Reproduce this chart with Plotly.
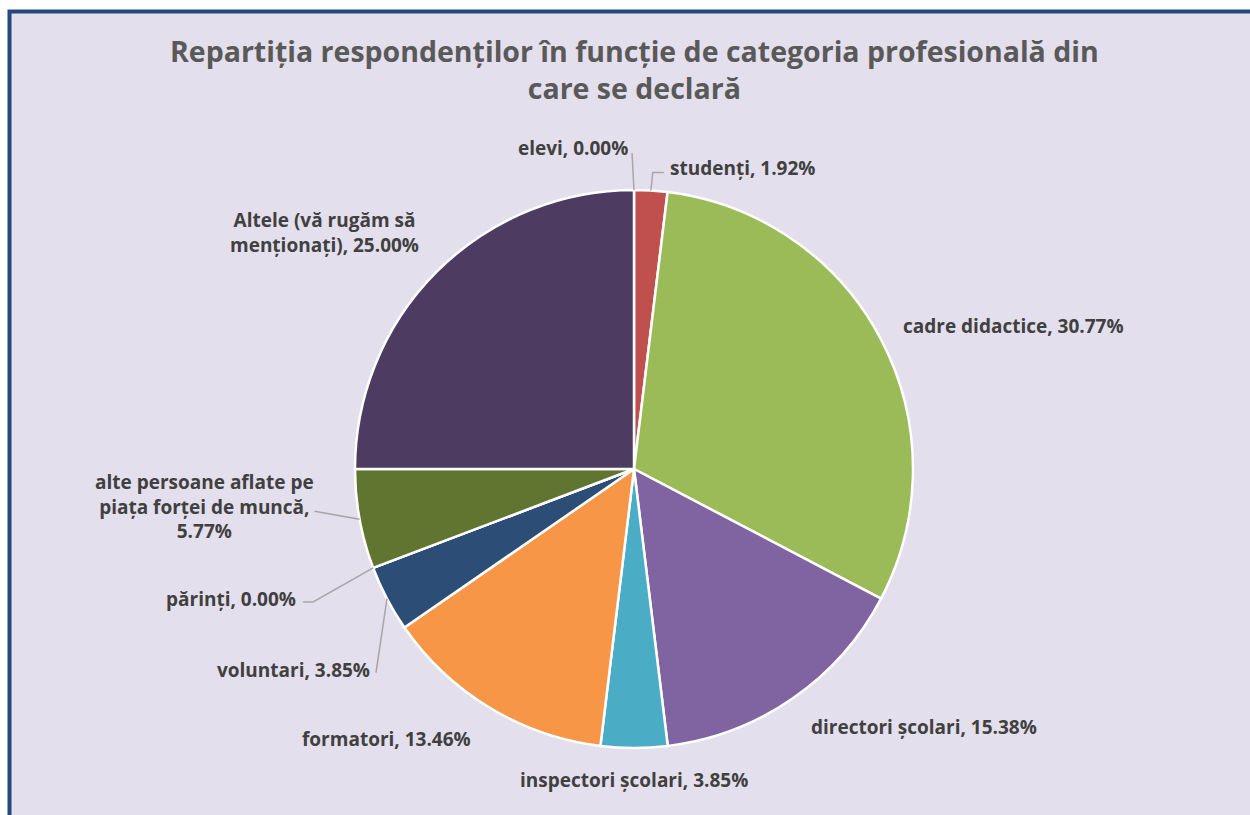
import numpy as np
import plotly.graph_objects as go

W, H = 1250, 815

categories = ["elevi", "studenți", "cadre didactice", "directori școlari",
              "inspectori școlari", "formatori", "voluntari", "părinți",
              "alte persoane aflate pe<br>piața forței de muncă,<br>",
              "Altele (vă rugăm să<br>menționați), "]
values = [0.00, 1.92, 30.77, 15.38, 3.85, 13.46, 3.85, 0.00, 5.77, 25.00]
colors = ["#4F81BD", "#C0504D", "#9BBB59", "#8064A2", "#4BACC6",
          "#F79646", "#2C4D75", "#772C2A", "#5F7530", "#4D3B62"]
title_text = "Repartiția respondenților în funcție de categoria profesională din<br>care se declară"

# pie geometry (pixels)
CX, CY, R = 634, 469, 279

# label layout: (dx, dy, xanchor, leader points relative to anchor)
label_layout = [
    (-4, -42, "right", [(0, 0), (-2, -37)]),
    (17, -23, "left", [(0, 0), (2, -18), (13, -18)]),
    (20, -13, "left", None),
    (16, 28, "left", None),
    (0, 32, "center", None),
    (-17, 31, "right", None),
    (-15, 71, "right", [(0, 0), (-11, 74)]),
    (-75, 31, "right", [(0, 0), (-60, 34), (-70, 34)]),
    (-155, -13, "center", [(0, 0), (-45, -8)]),
    (-112, -39, "center", None),
]


def px(x):
    return x / W


def py(y):
    return 1 - y / H


fig = go.Figure(go.Pie(
    labels=[c.replace("<br>", " ") for c in categories],
    values=values,
    sort=False,
    direction="clockwise",
    rotation=0,
    textinfo="none",
    hoverinfo="label+percent",
    marker=dict(colors=colors, line=dict(color="white", width=2.5)),
    domain=dict(x=[px(CX - R), px(CX + R)], y=[py(CY + R), py(CY - R)]),
    showlegend=False,
))

total = sum(values)
cum = np.cumsum([0] + values[:-1])
shapes = [dict(type="rect", xref="paper", yref="paper",
               x0=px(9.5), x1=px(1270), y0=py(840), y1=py(11.5),
               line=dict(color="#244A7D", width=4), fillcolor="#E4DFEC",
               layer="below")]
annotations = []
for i, (cat, v) in enumerate(zip(categories, values)):
    frac = (cum[i] + v / 2) / total
    ang = 2 * np.pi * frac
    ax_ = CX + R * np.sin(ang)
    ay_ = CY - R * np.cos(ang)
    dx, dy, xa, leader = label_layout[i]
    sep = "" if cat.endswith("<br>") or cat.endswith(", ") else ", "
    txt = f"{cat}{sep}{v:.2f}%"
    annotations.append(dict(
        x=px(ax_ + dx), y=py(ay_ + dy), xref="paper", yref="paper",
        text=txt, showarrow=False, xanchor=xa, yanchor="middle",
        align="center",
        font=dict(family="Open Sans", size=19, color="#404040", weight="bold"),
    ))
    if leader:
        path = "M " + " L ".join(f"{px(ax_ + p[0])},{py(ay_ + p[1])}" for p in leader)
        shapes.append(dict(type="path", xref="paper", yref="paper", path=path,
                           line=dict(color="#A6A6A6", width=1.5)))

annotations.append(dict(
    x=px(634), y=py(70), xref="paper", yref="paper", text=title_text,
    showarrow=False, xanchor="center", yanchor="middle", align="center",
    font=dict(family="Open Sans", size=28.5, color="#595959", weight="bold"),
))

fig.update_layout(
    width=W, height=H,
    margin=dict(l=0, r=0, t=0, b=0),
    paper_bgcolor="white",
    plot_bgcolor="rgba(0,0,0,0)",
    shapes=shapes,
    annotations=annotations,
)

fig.write_html("out.html", config={"displayModeBar": False},
               post_script="document.body.style.margin='0';document.body.style.overflow='hidden';")
